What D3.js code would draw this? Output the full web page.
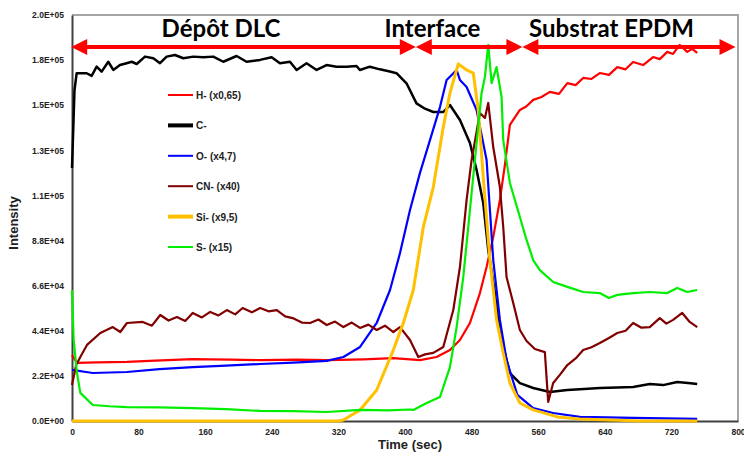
<!DOCTYPE html>
<html>
<head>
<meta charset="utf-8">
<script src="https://cdn.jsdelivr.net/npm/d3@7"></script>
<style>
  body { margin: 0; background: #fff; }
  svg text { font-family: "Liberation Sans", Arial, sans-serif; }
</style>
</head>
<body>
<div id="chart"></div>
<script>
// --- data (time in s, intensity in counts) ---
const hData = [[0,32200],[6,28300],[30,28600],[66,28800],[100,29400],[145,30200],[190,29900],[226,29700],[270,29900],[306,29700],[350,30100],[386,30700],[418,29700],[438,31200],[454,34600],[466,39500],[478,47800],[490,62400],[498,75100],[506,89700],[514,107800],[520,124900],[526,144400],[538,151700],[546,153500],[554,156600],[564,158000],[574,160500],[585,159500],[595,164800],[605,163800],[614,167300],[624,166800],[634,169700],[645,168800],[655,172600],[665,171500],[674,175100],[686,173600],[698,177500],[706,176500],[715,180000],[722,179000],[730,183400],[739,180000],[745,181500],[751,179500]];

const cData = [[0,123400],[3,161400],[5.6,169600],[17.6,169600],[23.6,168300],[29.6,172800],[35.6,170400],[43.6,175200],[49.6,171200],[57.6,173600],[65.6,174500],[71.7,175200],[77.7,174100],[87.7,177700],[97.7,176900],[105.7,174500],[113.7,177700],[123.7,178500],[133.7,176900],[145.7,177700],[157.7,177400],[169.7,177700],[181.7,175200],[197.7,178000],[209.7,175200],[225.8,176100],[239.8,177400],[249.8,174500],[261.8,175200],[269.8,171200],[281.8,174500],[293.8,171200],[305.8,173600],[317.8,172800],[329.8,172800],[341.8,173100],[345.8,171200],[357.8,172800],[369.8,171500],[381.8,170400],[389.8,169600],[401.8,164700],[413.8,154900],[424,152300],[434,150700],[446,150700],[454,154100],[466,146800],[478,135600],[486,122400],[494,106300],[500,83400],[508,62400],[514,42900],[526,23400],[538,18500],[554,16100],[574,14100],[595,15100],[615,15600],[634,16100],[655,16300],[674,16600],[694,18000],[710,17500],[727,19000],[740,18500],[751,18000]];

const oData = [[0,24900],[25,23400],[66,23900],[105,25300],[145,26300],[185,27000],[226,27800],[266,28500],[306,29300],[326,31200],[346,36100],[366,47800],[382,63900],[394,81900],[406,102900],[418,121000],[430,137000],[442,153100],[450,166300],[462,171200],[466,166300],[474,162900],[486,151700],[498,127300],[502,102900],[506,78500],[514,49300],[522,29700],[535,12700],[554,6300],[578,3900],[610,2000],[674,1500],[751,1000]];

const cnData = [[0,17600],[5,27300],[10,31200],[18,37100],[34,42900],[49,45800],[58,43400],[66,47800],[85,48300],[96,46500],[106,51700],[116,49000],[126,50700],[136,48800],[145,52700],[156,50500],[166,53200],[176,51500],[186,54100],[196,52000],[205,55100],[216,53000],[226,55100],[236,53500],[246,54100],[256,51000],[265,50200],[276,48000],[286,47800],[296,49500],[306,46800],[316,48500],[326,45800],[336,48000],[346,45400],[356,47000],[366,44400],[376,46500],[386,43400],[394,45800],[406,39500],[416,31200],[424,32500],[434,33200],[446,36100],[458,54100],[466,75100],[474,107800],[480,127300],[490,150200],[496,147800],[500,155100],[506,133600],[514,114100],[518,94600],[522,70200],[530,57500],[538,44400],[546,39000],[556,35100],[568,33600],[572,9300],[578,18500],[586,22500],[595,27300],[605,30500],[614,34600],[624,36000],[634,38000],[645,40500],[655,42900],[665,44000],[674,47800],[684,45500],[694,45800],[706,50200],[714,47500],[722,49300],[733,52700],[742,48300],[751,45800]];

const siData = [[0,0],[320,0],[326,500],[346,5400],[366,15100],[386,34600],[398,47800],[410,63900],[422,94600],[434,114100],[446,143400],[454,160000],[464,174100],[474,171200],[482,169700],[488,151700],[494,119000],[502,78500],[510,49300],[518,33200],[526,18500],[538,8800],[554,5400],[583,2000],[610,1000],[682,0],[751,0]];

const sData = [[0,63900],[2,39500],[6,23400],[10,13700],[25,7800],[45,7200],[66,6800],[105,6600],[145,6300],[185,5800],[226,4900],[266,4800],[306,4400],[346,5400],[380,5200],[405,5600],[410,5400],[426,8800],[442,11700],[454,26300],[462,45800],[470,70200],[478,102900],[486,135600],[492,160000],[496,167800],[500,183400],[504,164800],[510,172600],[516,158000],[518,137000],[526,116100],[538,99500],[546,88300],[554,78500],[562,73600],[578,67800],[595,65400],[614,62900],[634,62400],[645,60000],[655,61500],[674,62400],[694,62900],[715,62400],[727,64900],[739,62900],[751,63900]];

const seriesNames = ["H- (x0,65)", "C-", "O- (x4,7)", "CN- (x40)", "Si- (x9,5)", "S- (x15)"];
const seriesData = [hData, cData, oData, cnData, siData, sData];
const seriesColors = ["#ff0000", "#000000", "#0000ff", "#800000", "#ffc000", "#00ee00"];
const seriesWidths = [2.2, 2.5, 2.2, 2.2, 3, 2.2];
const legendWidths = [2, 4, 2, 2, 4, 2];

const xTicks = [0, 80, 160, 240, 320, 400, 480, 560, 640, 720, 800];
const yTicks = [0, 22000, 44000, 66000, 88000, 110000, 132000, 154000, 176000, 198000];
const yTickLabels = ["0.0E+00", "2.2E+04", "4.4E+04", "6.6E+04", "8.8E+04", "1.1E+05", "1.3E+05", "1.5E+05", "1.8E+05", "2.0E+05"];

const zoneNames = ["Dépôt DLC", "Interface", "Substrat EPDM"];
const zoneFrom = [-1, 413, 541];
const zoneTo = [413, 541, 797];
const zoneLabelAt = [179, 433, 648];

// --- layout ---
const W = 744, H = 456;
const margin = { top: 15, right: 6, bottom: 35, left: 72 };
const width = W - margin.left - margin.right;
const height = H - margin.top - margin.bottom;

const svg = d3.select("#chart").append("svg")
    .attr("width", W)
    .attr("height", H);

const g = svg.append("g")
    .attr("transform", `translate(${margin.left},${margin.top})`);

const x = d3.scaleLinear().domain([0, 800]).range([0, width]);
const y = d3.scaleLinear().domain([0, 198000]).range([height, 0]);

// frame (top/right light grey)
g.append("path")
    .attr("d", `M0,0H${width}V${height}`)
    .attr("fill", "none")
    .attr("stroke", "#a6a6a6")
    .attr("stroke-width", 2);

// axes
const xAxis = g.append("g")
    .attr("transform", `translate(0,${height})`)
    .call(d3.axisBottom(x).tickValues(xTicks).tickSize(0).tickPadding(8));
const yAxis = g.append("g")
    .call(d3.axisLeft(y).tickValues(yTicks).tickSize(0).tickPadding(8)
        .tickFormat((d, i) => yTickLabels[i]));

[xAxis, yAxis].forEach(a => {
    a.select(".domain").attr("stroke", "#404040").attr("stroke-width", 2);
    a.selectAll("text")
        .attr("font-size", 8.5)
        .attr("font-weight", "bold")
        .attr("fill", "#222");
});

// lines
const line = d3.line()
    .x(d => x(d[0]))
    .y(d => y(d[1]));

seriesData.forEach((data, i) => {
    g.append("path")
        .datum(data)
        .attr("fill", "none")
        .attr("stroke", seriesColors[i])
        .attr("stroke-width", seriesWidths[i])
        .attr("stroke-linejoin", "round")
        .attr("d", line);
});

// legend
const legend = g.append("g").attr("transform", "translate(96,80)");
seriesNames.forEach((name, i) => {
    const row = legend.append("g").attr("transform", `translate(0,${i * 30.4})`);
    row.append("line")
        .attr("x1", 0).attr("x2", 25)
        .attr("stroke", seriesColors[i])
        .attr("stroke-width", legendWidths[i]);
    row.append("text")
        .attr("x", 28).attr("y", 4)
        .attr("font-size", 10)
        .attr("font-weight", "bold")
        .attr("fill", "#222")
        .text(name);
});

// zone arrows
const arrowY = 32;
const ann = g.append("g");
zoneNames.forEach((name, i) => {
    const x0 = x(zoneFrom[i]), x1 = x(zoneTo[i]);
    ann.append("line")
        .attr("x1", x0 + 10).attr("x2", x1 - 10)
        .attr("y1", arrowY).attr("y2", arrowY)
        .attr("stroke", "#ff0000")
        .attr("stroke-width", 4);
    ann.append("path")
        .attr("d", `M${x0},${arrowY}L${x0 + 16},${arrowY - 8}L${x0 + 16},${arrowY + 8}Z`)
        .attr("fill", "#ff0000");
    ann.append("path")
        .attr("d", `M${x1},${arrowY}L${x1 - 16},${arrowY - 8}L${x1 - 16},${arrowY + 8}Z`)
        .attr("fill", "#ff0000");
    ann.append("text")
        .attr("x", x(zoneLabelAt[i]))
        .attr("y", 22)
        .attr("text-anchor", "middle")
        .style("font-family", "Lato, 'Open Sans', sans-serif")
        .attr("font-size", 24)
        .attr("font-weight", "bold")
        .attr("fill", "#000")
        .text(name);
});

// axis titles
svg.append("text")
    .attr("x", margin.left + width / 2 + 5)
    .attr("y", 449)
    .attr("text-anchor", "middle")
    .attr("font-size", 13)
    .attr("font-weight", "bold")
    .attr("fill", "#222")
    .text("Time (sec)");

svg.append("text")
    .attr("transform", `translate(18,${margin.top + height / 2 + 5}) rotate(-90)`)
    .attr("text-anchor", "middle")
    .attr("font-size", 13)
    .attr("font-weight", "bold")
    .attr("fill", "#222")
    .text("Intensity");
</script>
</body>
</html>
